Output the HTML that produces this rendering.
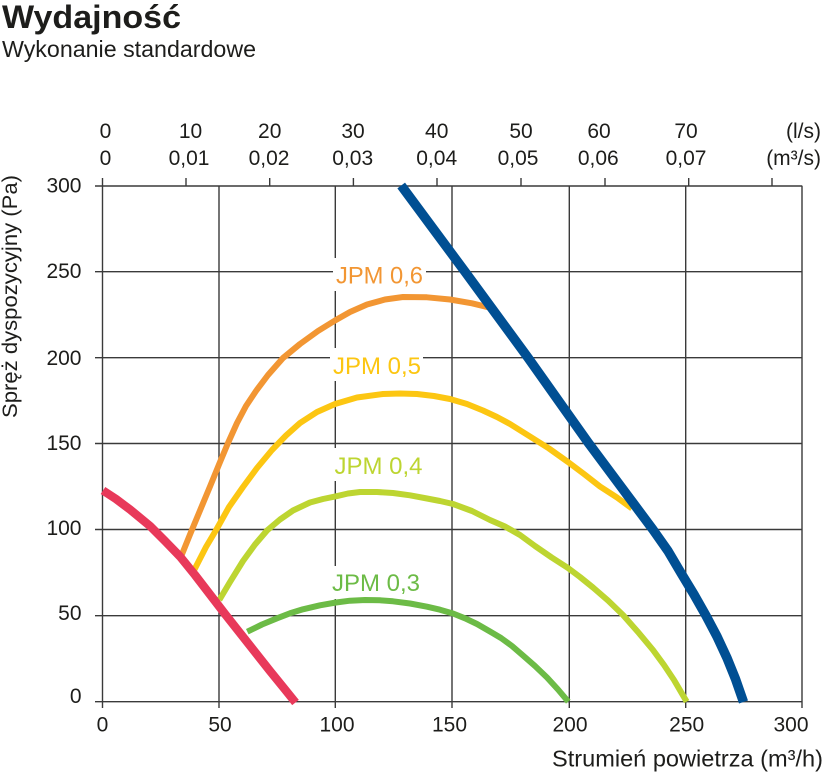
<!DOCTYPE html>
<html>
<head>
<meta charset="utf-8">
<style>
  html, body { margin: 0; padding: 0; background: #ffffff; }
  svg { display: block; }
  text { font-family: "Liberation Sans", "DejaVu Sans", sans-serif; }
</style>
</head>
<body>
<svg width="825" height="772" viewBox="0 0 825 772" xmlns="http://www.w3.org/2000/svg">
  <rect width="825" height="772" fill="#ffffff"/>

  <!-- Title -->
  <text x="2" y="28" font-size="32" font-weight="bold" fill="#1d1d1b" textLength="179" lengthAdjust="spacingAndGlyphs">Wydajność</text>
  <text x="2" y="57" font-size="23" fill="#1d1d1b" textLength="254" lengthAdjust="spacingAndGlyphs">Wykonanie standardowe</text>

  <!-- Grid -->
  <g stroke="#3a3a3a" stroke-width="1.4" fill="none">
    <line x1="95" y1="186" x2="802.3" y2="186"/>
    <line x1="95" y1="271.7" x2="802.3" y2="271.7"/>
    <line x1="95" y1="357.7" x2="802.3" y2="357.7"/>
    <line x1="95" y1="443.5" x2="802.3" y2="443.5"/>
    <line x1="95" y1="529.5" x2="802.3" y2="529.5"/>
    <line x1="95" y1="615.7" x2="802.3" y2="615.7"/>
    <line x1="95" y1="701.7" x2="802.3" y2="701.7"/>
    <line x1="102.5" y1="186" x2="102.5" y2="708"/>
    <line x1="219" y1="186" x2="219" y2="708"/>
    <line x1="335.3" y1="186" x2="335.3" y2="708"/>
    <line x1="452" y1="186" x2="452" y2="708"/>
    <line x1="569.3" y1="186" x2="569.3" y2="708"/>
    <line x1="685.7" y1="186" x2="685.7" y2="708"/>
    <line x1="802" y1="186" x2="802" y2="708"/>
    <line x1="102.5" y1="178" x2="102.5" y2="186"/>
    <line x1="186" y1="178" x2="186" y2="186"/>
    <line x1="269.7" y1="178" x2="269.7" y2="186"/>
    <line x1="353.4" y1="178" x2="353.4" y2="186"/>
    <line x1="437" y1="178" x2="437" y2="186"/>
    <line x1="521" y1="178" x2="521" y2="186"/>
    <line x1="605" y1="178" x2="605" y2="186"/>
    <line x1="688.7" y1="178" x2="688.7" y2="186"/>
    <line x1="772" y1="178" x2="772" y2="186"/>
  </g>

  <!-- Top axis labels -->
  <g font-size="21" fill="#1d1d1b" text-anchor="middle">
    <text x="105.5" y="138">0</text>
    <text x="190.5" y="138">10</text>
    <text x="269.7" y="138">20</text>
    <text x="353" y="138">30</text>
    <text x="436.7" y="138">40</text>
    <text x="521" y="138">50</text>
    <text x="599" y="138">60</text>
    <text x="686" y="138">70</text>
    <text x="105.5" y="165">0</text>
    <text x="189" y="165">0,01</text>
    <text x="269" y="165">0,02</text>
    <text x="352.7" y="165">0,03</text>
    <text x="436.7" y="165">0,04</text>
    <text x="518" y="165">0,05</text>
    <text x="598.3" y="165">0,06</text>
    <text x="686" y="165">0,07</text>
  </g>
  <g font-size="21" fill="#1d1d1b" text-anchor="end">
    <text x="821" y="138">(l/s)</text>
    <text x="821" y="165">(m³/s)</text>
  </g>

  <!-- Left axis labels -->
  <g font-size="21" fill="#1d1d1b" text-anchor="end">
    <text x="81.5" y="192.5">300</text>
    <text x="81.5" y="278">250</text>
    <text x="81.5" y="365">200</text>
    <text x="81.5" y="450">150</text>
    <text x="81.5" y="535">100</text>
    <text x="81.5" y="620">50</text>
    <text x="81.5" y="703">0</text>
  </g>
  <text transform="translate(17,418) rotate(-90)" x="0" y="0" font-size="21.5" fill="#1d1d1b" textLength="243" lengthAdjust="spacingAndGlyphs">Spręż dyspozycyjny (Pa)</text>

  <!-- Bottom axis labels -->
  <g font-size="21" fill="#1d1d1b" text-anchor="middle">
    <text x="102.5" y="731.5">0</text>
    <text x="220" y="731.5">50</text>
    <text x="337" y="731.5">100</text>
    <text x="449.5" y="731.5">150</text>
    <text x="570" y="731.5">200</text>
    <text x="686.7" y="731.5">250</text>
    <text x="791" y="731.5">300</text>
  </g>
  <text x="552" y="766.5" font-size="23" fill="#1d1d1b" textLength="271" lengthAdjust="spacingAndGlyphs">Strumień powietrza (m³/h)</text>

  <!-- Curve labels with white knock-out -->
  <rect x="333" y="258" width="93" height="33" fill="#ffffff"/>
  <text x="336" y="283.5" font-size="24" fill="#f29633" textLength="87" lengthAdjust="spacingAndGlyphs">JPM 0,6</text>
  <rect x="330" y="348" width="93" height="33" fill="#ffffff"/>
  <text x="333" y="374" font-size="24" fill="#fcc612" textLength="88" lengthAdjust="spacingAndGlyphs">JPM 0,5</text>
  <rect x="331.5" y="448" width="93" height="33" fill="#ffffff"/>
  <text x="334.5" y="474" font-size="24" fill="#bdd531" textLength="88" lengthAdjust="spacingAndGlyphs">JPM 0,4</text>
  <rect x="329" y="566" width="93" height="33" fill="#ffffff"/>
  <text x="332" y="591" font-size="24" fill="#6cbb46" textLength="88" lengthAdjust="spacingAndGlyphs">JPM 0,3</text>

  <!-- Curves -->
  <g fill="none" stroke-linejoin="round" stroke-linecap="butt">
    <!-- JPM 0,3 -->
    <polyline stroke="#6cbb46" stroke-width="6"
      points="247.3,631.7 262,624.5 277,618.3 290,613.3 303,609.3 320,605.3 336,602.5 350,600.7 365,600 380,600.3 393,601.3 410,603.5 427,606.7 440,609.7 453,613.5 465,618.3 477,624 490,631.5 501,638 512,646 523,655.5 535,666 547,677.5 558,689.5 568.3,701.7"/>
    <!-- JPM 0,4 -->
    <polyline stroke="#bdd531" stroke-width="6"
      points="219.3,600 230,582 243,561 255,544.5 267,530.5 280,519.5 293,510.5 310,502.5 323,499 336,496.3 348,493.5 360,492 377,492 393,493 410,495.3 427,498.5 440,501 453,504 472,511 490,520 505,526.5 520,535 535,546 551.7,557.5 568,568 580,577 593,587.5 608,600.5 623,615 638,632 653,650 664,665 674,680 686.7,701.7"/>
    <!-- JPM 0,5 -->
    <polyline stroke="#fcc612" stroke-width="6"
      points="193.3,571.7 206,547 216.7,529 229,507 243,487 257,468 272,450 286,435.5 300,423 317,412 335,404 357,397.5 383,394 400,393.5 417,394 434,396 450,399 467,404 483,410.5 497,417 510,424 530,436.5 549,448.5 568,462 584,474 600,486.5 617,497.5 632,508.5"/>
    <!-- JPM 0,6 -->
    <polyline stroke="#f29633" stroke-width="6"
      points="181.7,555 190,534.5 200,510.5 210,486.5 219,464.5 228,443 237,423 246,406 256,391 268,375 283,358 300,344 318,331 335,320.5 350,312 367,304.5 385,299.5 403,297 427,297.3 450,299.5 472,303.3 493.3,308.5"/>
    <!-- Red system curve -->
    <polyline stroke="#e8395a" stroke-width="8.5"
      points="103,490.5 116,499 130,509.5 150,526 165,541 180,556.5 195,575 210,594.5 225,614 240,633 255,652 270,671 283,687 295.5,702.5"/>
    <!-- Blue max curve -->
    <polyline stroke="#004f93" stroke-width="9.5"
      points="401.2,185.5 433,228.5 465,271.7 496.5,314.7 528,357.7 558.5,400.7 589,443.7 621,486.7 653,529.7 668,551 681,573 694,594.5 706,615.7 717,636.5 727,658 735.5,679 743.5,702"/>
  </g>
</svg>
</body>
</html>
